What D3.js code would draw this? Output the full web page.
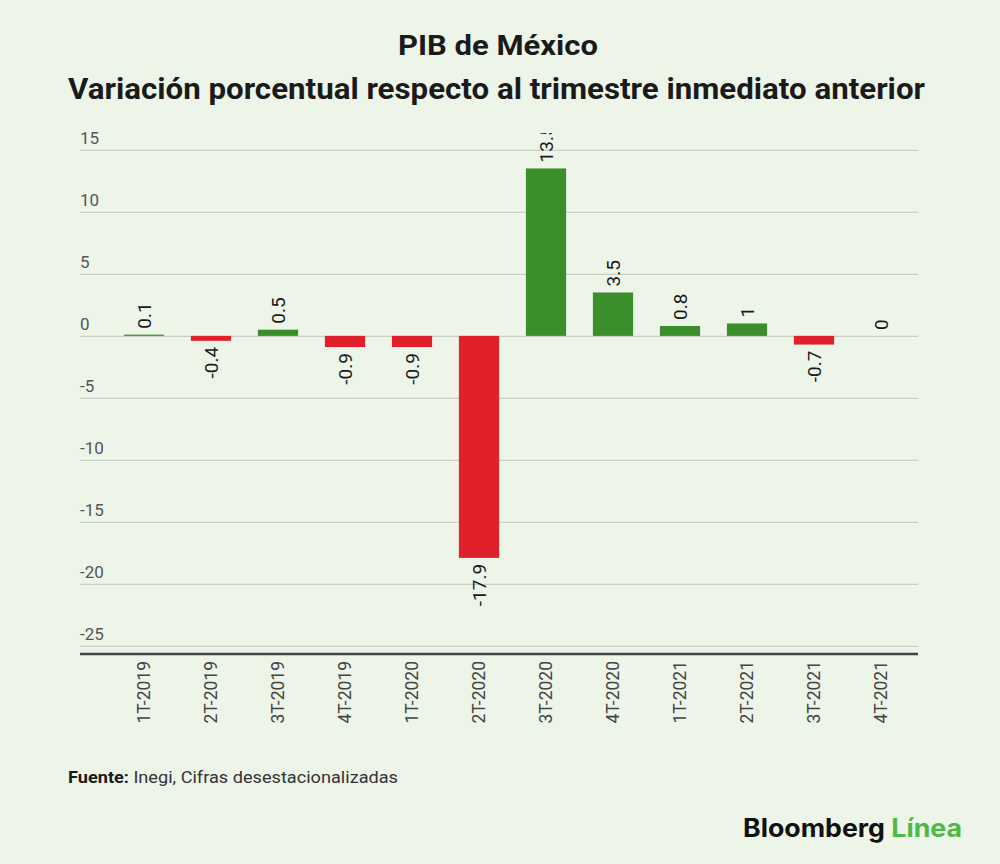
<!DOCTYPE html>
<html>
<head>
<meta charset="utf-8">
<script src="https://cdn.jsdelivr.net/npm/d3@7"></script>
<style>
  body { margin: 0; background: #edf5e9; }
  svg { display: block; font-family: Roboto, "Noto Sans", sans-serif; }
</style>
</head>
<body>
<div id="chart"></div>
<script>
// data
var quarters = ["1T-2019", "2T-2019", "3T-2019", "4T-2019", "1T-2020", "2T-2020",
                "3T-2020", "4T-2020", "1T-2021", "2T-2021", "3T-2021", "4T-2021"];
var growth = [0.1, -0.4, 0.5, -0.9, -0.9, -17.9, 13.5, 3.5, 0.8, 1, -0.7, 0];
var yTicks = [15, 10, 5, 0, -5, -10, -15, -20, -25];

var svgWidth = 1000, svgHeight = 864;
var margin = { top: 130, right: 82, bottom: 210, left: 80 };
var width = svgWidth - margin.left - margin.right;
var height = svgHeight - margin.top - margin.bottom;

var svg = d3.select("#chart").append("svg")
    .attr("width", svgWidth)
    .attr("height", svgHeight);

svg.append("rect").attr("width", svgWidth).attr("height", svgHeight).attr("fill", "#edf5e9");

// titles
svg.append("text")
    .attr("x", 398).attr("y", 55)
    .attr("font-size", 27).attr("font-weight", "bold").attr("fill", "#1a1a1a")
    .attr("textLength", 200).attr("lengthAdjust", "spacingAndGlyphs")
    .text("PIB de México");
svg.append("text")
    .attr("x", 68).attr("y", 99)
    .attr("font-size", 29).attr("font-weight", "bold").attr("fill", "#1a1a1a")
    .attr("textLength", 857).attr("lengthAdjust", "spacingAndGlyphs")
    .text("Variación porcentual respecto al trimestre inmediato anterior");

var chartGroup = svg.append("g")
    .attr("transform", `translate(${margin.left}, ${margin.top})`);

// scales
var x = d3.scaleBand()
    .domain(quarters)
    .range([30.5, width - 3.5])
    .paddingInner(0.4)
    .paddingOuter(0.2);

var y = d3.scaleLinear()
    .domain([-25.65, 16.6])
    .range([height, 0]);

// clip so the top label gets cut like the original
svg.append("clipPath").attr("id", "plotclip")
  .append("rect").attr("x", 0).attr("y", 3).attr("width", width).attr("height", height);

// gridlines + y labels
var yAxis = d3.axisLeft(y).tickValues(yTicks).tickSize(-width).tickFormat("");
var gy = chartGroup.append("g").call(yAxis);
gy.select(".domain").remove();
gy.selectAll(".tick line").attr("stroke", "#c9cfc5").attr("stroke-width", 1.3);

chartGroup.selectAll(".ylab")
    .data(yTicks)
    .enter().append("text")
    .attr("class", "ylab")
    .attr("x", 0)
    .attr("y", d => y(d) - 6)
    .attr("font-size", 17).attr("fill", "#555")
    .text(d => d);

// bars
var plot = chartGroup.append("g").attr("clip-path", "url(#plotclip)");

plot.selectAll("rect.bar")
    .data(quarters)
    .enter().append("rect")
    .attr("class", "bar")
    .attr("x", d => x(d))
    .attr("width", x.bandwidth())
    .attr("y", (d, i) => y(Math.max(0, growth[i])))
    .attr("height", (d, i) => Math.abs(y(growth[i]) - y(0)))
    .attr("fill", (d, i) => growth[i] >= 0 ? "#3a8f2b" : "#e0202a");

// value labels
plot.selectAll("text.val")
    .data(quarters)
    .enter().append("text")
    .attr("class", "val")
    .attr("transform", (d, i) => {
        var cx = x(d) + x.bandwidth() / 2 + 7;
        var cy = growth[i] >= 0 ? y(growth[i]) - 6 : y(growth[i]) + 6;
        return `translate(${cx}, ${cy}) rotate(-90)`;
    })
    .attr("text-anchor", (d, i) => growth[i] >= 0 ? "start" : "end")
    .attr("font-size", 19).attr("fill", "#1a1a1a")
    .text((d, i) => growth[i]);

// bottom axis
var xAxis = d3.axisBottom(x).tickSize(0);
var gx = chartGroup.append("g")
    .attr("transform", `translate(0, ${height})`)
    .call(xAxis);
gx.select(".domain").remove();
chartGroup.append("line")
    .attr("x1", 0).attr("x2", width)
    .attr("y1", height).attr("y2", height)
    .attr("stroke", "#444").attr("stroke-width", 2.5);
gx.selectAll(".tick text")
    .attr("transform", "rotate(-90)")
    .attr("text-anchor", "end")
    .attr("x", -7).attr("y", 0).attr("dy", "0.35em")
    .attr("font-size", 17.5).attr("fill", "#444")
    .attr("font-family", "Roboto, sans-serif");

// source
var src = svg.append("text")
    .attr("x", 68).attr("y", 783)
    .attr("font-size", 16.5).attr("fill", "#333")
    .attr("textLength", 330).attr("lengthAdjust", "spacingAndGlyphs");
src.append("tspan").attr("font-weight", "bold").attr("fill", "#1a1a1a").text("Fuente:");
src.append("tspan").text(" Inegi, Cifras desestacionalizadas");

// logo
var logo = svg.append("text")
    .attr("x", 743).attr("y", 837)
    .attr("font-size", 25).attr("font-weight", "bold")
    .attr("font-family", "Inter, 'Liberation Sans', sans-serif")
    .attr("textLength", 219).attr("lengthAdjust", "spacingAndGlyphs");
logo.append("tspan").attr("fill", "#111").text("Bloomberg ");
logo.append("tspan").attr("fill", "#4cb847").text("Línea");
</script>
</body>
</html>
